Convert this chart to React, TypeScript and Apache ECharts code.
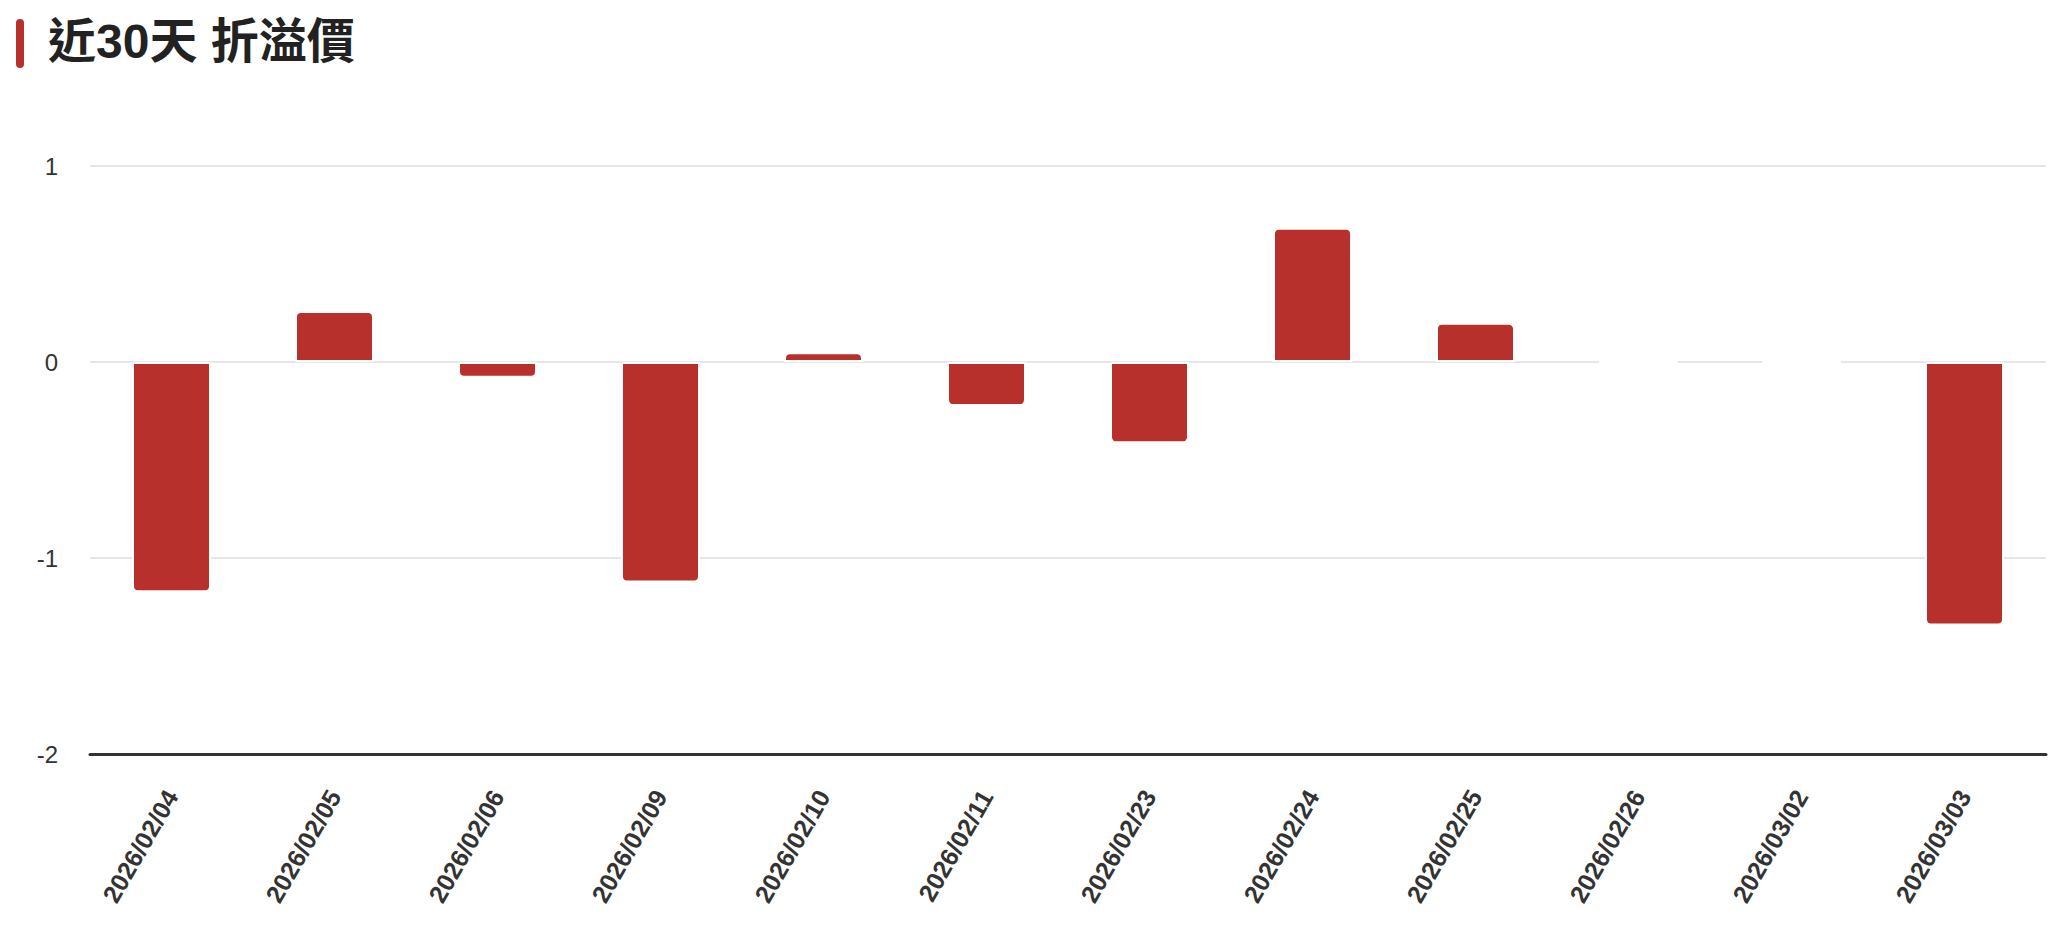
import React, { useEffect, useRef } from "react";
import * as echarts from "echarts";

const categories = [
  "2026/02/04",
  "2026/02/05",
  "2026/02/06",
  "2026/02/09",
  "2026/02/10",
  "2026/02/11",
  "2026/02/23",
  "2026/02/24",
  "2026/02/25",
  "2026/02/26",
  "2026/03/02",
  "2026/03/03",
];

const premiumValues = [-1.175, 0.26, -0.08, -1.125, 0.05, -0.225, -0.415, 0.685, 0.2, 0, 0, -1.345];

const yMin = -2;
const yMax = 1;
const yInterval = 1;

const titleText = "近30天 折溢價";

const BAR_COLOR = "#b7302c";
const FONT = '"Liberation Sans", Arial, Helvetica, "Noto Sans CJK TC", sans-serif';

export default function App() {
  const ref = useRef<HTMLDivElement>(null);

  useEffect(() => {
    if (!ref.current) return;
    const chart = echarts.init(ref.current, undefined, { renderer: "svg" });

    const data = premiumValues.map((v) => ({
      value: v,
      itemStyle: {
        borderRadius: v > 0 ? [5, 5, 0, 0] : v < 0 ? [0, 0, 5, 5] : 0,
      },
    }));

    chart.setOption({
      animation: false,
      backgroundColor: "#ffffff",
      textStyle: { fontFamily: FONT },
      graphic: [
        {
          type: "rect",
          left: 16,
          top: 19,
          shape: { width: 8, height: 49, r: 4 },
          style: { fill: BAR_COLOR },
        },
        {
          type: "text",
          left: 48,
          top: 17,
          style: {
            text: titleText,
            font: `bold 48px ${FONT}`,
            fill: "#222222",
          },
        },
      ],
      grid: {
        left: 90,
        right: 2,
        top: 166,
        bottom: 176,
        containLabel: false,
        outerBoundsMode: "none",
      },
      xAxis: {
        type: "category",
        data: categories,
        axisLine: { onZero: false, lineStyle: { color: "#333333", width: 3 } },
        axisTick: { show: false },
        axisLabel: {
          interval: 0,
          rotate: 60,
          margin: 38,
          color: "#333333",
          fontSize: 25,
          fontWeight: "bold",
          fontFamily: FONT,
        },
        splitLine: { show: false },
      },
      yAxis: {
        type: "value",
        min: yMin,
        max: yMax,
        interval: yInterval,
        axisLine: { show: false },
        axisTick: { show: false },
        axisLabel: {
          margin: 32,
          color: "#333333",
          fontSize: 24,
          fontFamily: FONT,
        },
        splitLine: { lineStyle: { color: "#e6e6e6", width: 2 } },
      },
      series: [
        {
          type: "bar",
          data,
          barWidth: 79,
          itemStyle: {
            color: BAR_COLOR,
            borderColor: "#ffffff",
            borderWidth: 2,
          },
        },
      ],
    });

    return () => chart.dispose();
  }, []);

  return (
    <div
      ref={ref}
      style={{ position: "fixed", left: 0, top: 0, width: 2048, height: 930, background: "#fff" }}
    />
  );
}
